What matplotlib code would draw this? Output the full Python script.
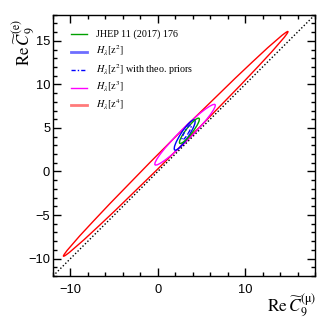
import matplotlib
matplotlib.use("Agg")
import matplotlib.pyplot as plt
from matplotlib.patches import Ellipse
from matplotlib.lines import Line2D
from matplotlib.ticker import MultipleLocator

plt.rcParams["mathtext.fontset"] = "stix"

# contour ellipses (data units, angle in degrees)
labels = [
    "JHEP 11 (2017) 176",
    r"$H_{\lambda}[\mathrm{z}^{2}]$",
    r"$H_{\lambda}[\mathrm{z}^{2}]$ with theo. priors",
    r"$H_{\lambda}[\mathrm{z}^{3}]$",
    r"$H_{\lambda}[\mathrm{z}^{4}]$",
]
center_x = [3.62, 3.08, 3.30, 3.12, 2.05]
center_y = [4.67, 4.19, 4.50, 4.22, 3.17]
semi_major = [1.81, 2.07, 1.00, 4.87, 18.2]
semi_minor = [0.38, 0.45, 0.22, 0.65, 0.59]
angle_deg = [52.6, 56.6, 60.0, 45.2, 45.1]

colors = ["#00a000", "#0000ff", "#0000ff", "#ff00ff", "#ff0000"]
styles = ["-", "-", (0, (3, 1.5, 1, 1.5)), "-", "-"]
legend_colors = ["#00a000", "#6e6eff", "#0000ff", "#ff00ff", "#ff7a7a"]
legend_widths = [1.0, 2.0, 1.0, 1.0, 2.0]

diag = [-12, 18]

W, H = 332, 322
fig = plt.figure(figsize=(W / 100, H / 100), dpi=100)
ax = fig.add_axes([53 / W, 1 - 276 / H, 262 / W, 261.3 / H])

order = [4, 3, 1, 0, 2]
for i in order:
    e = Ellipse((center_x[i], center_y[i]), 2 * semi_major[i], 2 * semi_minor[i],
                angle=angle_deg[i], fill=False, edgecolor=colors[i],
                linestyle=styles[i], linewidth=1.0)
    ax.add_patch(e)

ax.plot(diag, diag, color="black", linestyle=(0, (1, 1.5)), linewidth=1.0, zorder=5)

ax.set_xlim(-12, 18)
ax.set_ylim(-12, 18)
ax.xaxis.set_major_locator(MultipleLocator(10))
ax.xaxis.set_minor_locator(MultipleLocator(2))
ax.yaxis.set_major_locator(MultipleLocator(5))
ax.yaxis.set_minor_locator(MultipleLocator(1))
ax.tick_params(which="both", direction="in", top=True, right=True, width=1.0,
               labelsize=9.3, labelfontfamily="Liberation Sans")
ax.tick_params(which="major", length=5.5)
ax.tick_params(which="minor", length=3)
ax.tick_params(axis="x", pad=6)
ax.tick_params(axis="y", pad=2)
for s in ax.spines.values():
    s.set_linewidth(1.0)

# legend drawn by hand so the rows keep the reference spacing
row_y = [33.5, 51.8, 70.0, 87.5, 105.0]
for i, lab in enumerate(labels):
    yf = 1 - row_y[i] / H
    fig.add_artist(Line2D([71 / W, 87 / W], [yf, yf], transform=fig.transFigure,
                          color=legend_colors[i], linestyle=styles[i],
                          linewidth=legend_widths[i]))
    fig.text(96.5 / W, 1 - (row_y[i] + 3.0) / H, lab, ha="left", va="baseline",
             fontsize=7.3, family="Liberation Serif")

fig.text(316 / W, (H - 311.7) / H, r"$\mathrm{Re}\,\widetilde{C}_{9}^{(\mathrm{\mu})}$",
         ha="right", va="baseline", fontsize=12.5, family="Liberation Serif")
fig.text(23.5 / W, 1 - 42.5 / H, r"$\mathrm{Re}\,\widetilde{C}_{9}^{(\mathrm{e})}$",
         ha="center", va="center", rotation=90, fontsize=12.2, family="Liberation Serif")

fig.savefig("out.png", dpi=100)
